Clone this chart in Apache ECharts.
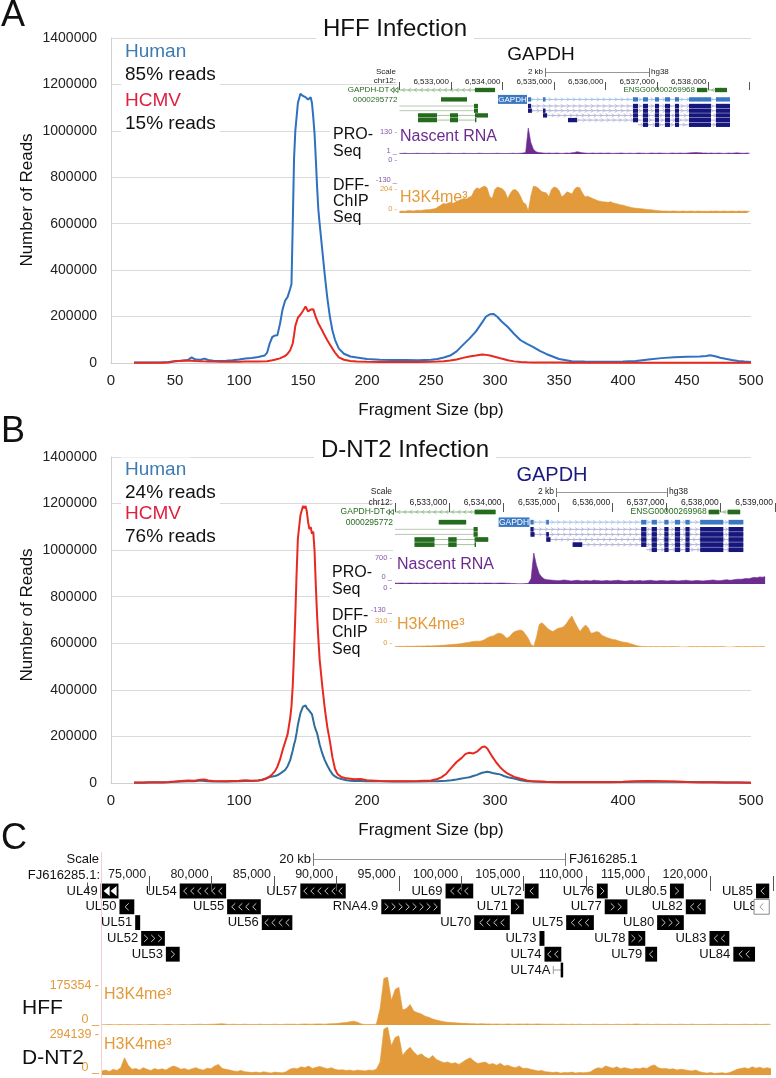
<!DOCTYPE html>
<html>
<head>
<meta charset="utf-8">
<script src="https://cdn.jsdelivr.net/npm/echarts@6/dist/echarts.min.js"></script>
<style>
html, body { margin: 0; background: #fff; }
#chart { width: 776px; height: 1078px; }
</style>
</head>
<body>
<div id="chart"></div>
<script>
const FONT = "'Liberation Sans', Arial, Helvetica, sans-serif";

// ---------- A: HFF fragment size distribution
const fragA = [18,25,30,40,45,50,55,60,63,66,70,73,76,80,85,90,95,100,105,110,115,120,122,124,126,128,130,132,134,136,138,140,141,142,143,144,146,148,150,152,154,156,157,158,159,160,161,162,163,165,167,169,171,173,175,178,182,187,192,200,210,220,230,240,250,255,260,265,270,275,280,285,290,293,296,299,302,305,310,315,320,325,330,335,340,350,360,370,380,390,400,410,420,430,440,450,460,465,468,472,476,480,485,490,495,500];
const humanA = [2000,2000,2500,3000,4500,8000,10000,13000,24000,15000,14000,19000,13000,10000,9000,10000,12000,15000,19000,22000,26000,32000,45000,85000,112000,118000,120000,168000,230000,268000,285000,320000,340000,600000,880000,1000000,1120000,1160000,1150000,1145000,1135000,1145000,1120000,1060000,990000,880000,760000,660000,600000,490000,380000,280000,200000,140000,100000,62000,40000,28000,24000,17000,14000,13000,13000,12000,14000,17000,24000,32000,50000,78000,105000,135000,175000,200000,210000,211000,198000,180000,155000,125000,98000,82000,68000,52000,39000,17000,8000,6000,5000,5000,6000,9000,15000,21000,25000,27000,28000,30000,33000,29000,23000,18000,13000,9000,6000,4000];
const hcmvA = [1000,1000,1200,1500,2000,8000,10000,11000,10000,9000,8000,7000,6000,6000,5000,5000,5000,5000,6000,6000,6000,7000,8000,10000,12000,14000,17000,20000,25000,30000,40000,55000,70000,85000,120000,160000,195000,208000,225000,243000,222000,230000,225000,232000,215000,197000,185000,170000,160000,140000,118000,98000,80000,62000,45000,24000,14000,9000,6000,5000,4000,4000,4000,4000,5000,6000,8000,11000,15000,22000,28000,32000,37000,35000,32000,28000,24000,19000,12000,7000,4000,3000,2500,2000,2000,2000,1500,1500,1500,1500,1500,1500,1500,1500,1500,1500,1500,1500,1500,1500,1500,1500,1500,1500,1500,1000];

// ---------- B: D-NT2 fragment size distribution
const fragB = [18,25,30,40,45,50,55,60,65,70,73,76,80,90,100,105,110,115,118,121,124,126,128,130,132,134,136,138,140,141,142,143,144,145,146,148,150,151,152,153,154,155,156,157,158,159,160,161,162,163,165,167,169,171,173,175,177,180,184,187,190,195,200,210,220,230,240,250,255,258,262,266,270,274,277,280,283,286,288,290,292,294,296,298,301,304,307,310,315,320,325,330,340,350,370,390,400,410,420,430,440,450,460,470,480,490,500];
const humanB = [1500,1500,2000,2500,3000,5000,6000,7000,8000,11000,9000,7000,6000,6000,8000,9000,9000,11000,14000,20000,26000,28000,30000,33000,40000,48000,56000,72000,98000,120000,140000,165000,185000,215000,250000,300000,328000,336000,333000,322000,315000,310000,305000,295000,270000,245000,228000,214000,190000,165000,128000,98000,75000,55000,38000,28000,22000,17000,12000,10000,9000,9000,8000,7000,6000,6000,6000,7000,8000,9000,10000,12000,15000,19000,22000,25000,30000,35000,40000,44000,46000,48000,46000,43000,40000,37000,30000,25000,19000,12000,8000,6000,4000,3000,3000,3000,4000,5000,6000,5000,5000,4000,3000,3000,2000,2000,1000];
const hcmvB = [2000,2500,3000,3500,4000,6000,9000,11000,10000,14000,15000,11000,9000,8000,10000,12000,10000,11000,13000,18000,28000,38000,50000,70000,100000,140000,175000,210000,280000,330000,420000,560000,720000,900000,1050000,1150000,1190000,1180000,1190000,1165000,1120000,1090000,1100000,1070000,1080000,1000000,850000,720000,620000,530000,420000,320000,240000,180000,110000,60000,38000,26000,20000,18000,16000,17000,12000,9000,8000,8000,9000,11000,17000,24000,40000,66000,90000,108000,125000,130000,127000,135000,145000,155000,157000,148000,130000,112000,88000,68000,52000,40000,26000,18000,11000,7000,5000,4000,4000,4000,5000,8000,9000,8000,6000,4000,3000,3000,2500,2000,1500];

// ---------- GAPDH browser insets (chr12, 50 bp bins from insetStart)
const insetStart = 6532000;
const insetBin = 50;
const proSeqA = [3,3,4,3,2,3,3,4,3,3,3,2,3,4,3,3,2,3,3,4,3,3,2,3,3,4,3,3,3,2,3,4,3,3,2,3,3,3,4,3,3,2,3,3,4,3,3,4,5,8,135,60,25,12,8,6,5,4,5,4,4,5,4,3,4,5,4,6,8,12,9,6,5,4,4,5,4,4,5,4,4,5,4,3,4,4,5,4,3,4,4,3,4,5,4,4,3,4,5,4,4,5,4,4,3,4,5,4,4,5,4,4,5,6,7,8,7,6,5,5,4,5,4,4,5,4,3,4,5,4,5,6,5,4,4,5,4];
const h3k4A = [15,18,15,20,22,18,20,25,22,25,28,30,32,35,40,55,70,85,80,90,95,88,100,110,120,130,125,140,150,200,225,215,230,240,225,150,130,210,232,225,215,190,130,175,205,209,190,150,95,80,20,150,240,235,220,195,185,180,145,210,232,225,200,145,160,189,180,170,215,232,225,180,145,150,140,130,120,110,105,100,98,95,100,90,85,78,72,70,60,55,50,45,42,40,38,35,32,30,28,25,22,20,18,18,17,16,18,17,16,15,17,16,15,18,16,15,17,16,15,16,15,17,16,18,15,16,17,15,16,17,15,16,18,15,17,16,15];
const proSeqB = [20,18,22,20,18,20,22,19,20,18,20,22,20,18,20,21,19,20,22,20,18,20,22,20,19,20,18,20,22,20,19,20,18,22,20,20,18,19,20,22,20,18,15,12,10,6,5,6,10,15,120,700,420,230,150,110,95,90,85,80,75,80,90,85,75,70,80,85,75,70,80,75,70,85,80,75,70,75,80,70,75,80,85,75,70,65,75,80,70,75,80,70,75,80,85,75,70,75,80,75,70,75,80,75,70,75,80,85,75,70,75,80,75,70,75,80,85,90,80,75,80,90,95,85,90,100,110,105,115,125,120,135,150,140,160,155,165];
const h3k4B = [5,6,8,7,9,8,10,9,11,10,12,11,14,13,15,16,18,20,22,25,28,30,32,35,40,45,50,55,62,67,70,68,75,90,110,125,130,150,165,160,140,105,120,160,184,195,204,190,150,100,30,8,120,270,290,260,223,200,184,205,223,230,243,280,330,369,302,240,184,230,263,230,165,170,184,175,140,125,110,100,90,86,75,65,58,55,45,35,25,16,10,6,5,4,5,4,5,4,4,5,4,4,5,4,4,0,0,0,4,5,4,5,4,4,5,4,4,5,4,4,5,4,0,0,0,4,5,4,4,5,4,4,5,4,4,5,4];

const laneY = [0, 2, 3.4, 4.4, 5.4, 6.4, 7.4];
const gapdhExons = [[6536534,6536631],[6536728,6536825],[6536961,6537039],[6537155,6537252],[6537350,6537427],[6537621,6538048],[6538145,6538417]];
const GREEN = '#256b1d', NAVY = '#16167c', GBLUE = '#3b78c2';
const insetTx = [
  { name: 'GAPDH-DT', lane: 0, strand: '-', from: 6532000, exons: [[6533466,6533854]], color: GREEN, line: '#8db584', label: 'margin', edge: true },
  { name: '0000295772', lane: 1, strand: '', exons: [[6532806,6533311]], color: GREEN, label: 'margin' },
  { name: '', lane: 2, strand: '', from: 6532000, exons: [[6533447,6533524]], color: GREEN, line: '#b8c8b2' },
  { name: '', lane: 3, strand: '', from: 6532000, exons: [[6533447,6533524]], color: GREEN, line: '#b8c8b2' },
  { name: '', lane: 4, strand: '', exons: [[6532359,6532728],[6532981,6533136],[6533466,6533718]], color: GREEN, line: '#a6c29d' },
  { name: '', lane: 5, strand: '', exons: [[6532359,6532728],[6532981,6533136],[6533466,6533492]], color: GREEN, line: '#a6c29d' },
  { name: 'ENSG00000269968', lane: 0, strand: '-', exons: [[6537777,6537971],[6538126,6538359]], color: GREEN, line: '#8db584', label: 'inline' },
  { name: 'GAPDH', lane: 1, strand: '+', exons: [[6534495,6534553],[6534786,6534835]].concat(gapdhExons), color: GBLUE, line: '#9fc1e6', label: 'box' },
  { name: '', lane: 2, strand: '+', exons: [[6534495,6534553]].concat(gapdhExons), color: NAVY, line: '#b2b4d6' },
  { name: '', lane: 3, strand: '+', exons: [[6534495,6534570],[6534786,6534835]].concat(gapdhExons), color: NAVY, line: '#b2b4d6' },
  { name: '', lane: 4, strand: '+', exons: [[6534786,6534864]].concat(gapdhExons), color: NAVY, line: '#b2b4d6' },
  { name: '', lane: 5, strand: '+', exons: [[6535272,6535447]].concat(gapdhExons), color: NAVY, line: '#b2b4d6' },
  { name: '', lane: 6, strand: '+', from: 6536631, exons: gapdhExons.slice(1), color: NAVY, line: '#b2b4d6' }
];

// ---------- C: HCMV genome (FJ616285.1), 300 bp bins, values in thousands
const cStart = 71200;
const cBin = 300;
const hffSignal = [1,1,2,1,1,2,1,2,1,1,2,1,1,2,2,1,1,2,2,1,1,2,2,1,2,2,3,2,2,3,3,4,5,3,2,3,2,2,3,2,2,2,3,2,2,2,3,2,2,3,3,3,2,3,4,3,3,4,4,3,4,5,5,6,8,9,12,14,10,4,2,2,2,3,60,170,175,90,130,138,55,60,75,50,45,40,32,28,22,18,15,12,10,9,8,7,6,6,5,5,4,5,4,4,3,4,3,3,4,3,3,4,3,4,3,3,4,3,3,3,3,2,3,3,2,3,2,3,2,2,2,3,2,2,3,2,2,3,2,2,3,2,4,3,2,3,2,2,3,2,2,3,2,2,3,2,2,3,2,2,2,2,3,2,2,2,3,2,2,2,2,3,2,2,3,2,2,3,2];
const dnt2Signal = [25,30,22,35,28,45,105,60,35,40,30,45,35,28,40,32,38,30,45,55,48,35,40,30,38,45,35,30,42,38,55,65,40,35,30,25,22,28,20,18,15,18,14,20,16,12,18,15,14,20,35,42,38,50,45,55,40,48,52,45,38,45,35,30,32,28,30,25,30,28,25,30,28,35,80,280,294,180,230,240,120,150,170,140,120,130,110,100,120,95,85,75,80,70,75,65,80,95,105,85,70,75,80,65,70,60,72,55,60,50,45,55,40,42,35,30,25,28,20,18,15,18,12,15,14,18,12,16,14,15,20,35,45,40,55,48,42,50,38,45,40,35,42,38,45,40,55,62,45,38,40,35,38,30,35,32,28,25,30,20,15,12,15,10,12,14,10,15,25,35,40,45,38,50,42,48,40,45,38];
const hffMax = 175.354, dnt2Max = 294.139;
const trackLabels = ['175354 -', '0 _', '294139 -', '0 _'];

// name, start, end, lane, kind
const cGenes = [
  ['UL49', 71100, 72530, 0, 'L'], ['UL50', 72610, 73800, 1, '-'], ['UL51', 73870, 74270, 2, ''],
  ['UL52', 74350, 76250, 3, '+'], ['UL53', 76330, 77440, 4, '+'], ['UL54', 77440, 81160, 0, '-'],
  ['UL55', 81240, 83940, 1, '-'], ['UL56', 84020, 86470, 2, '-'], ['UL57', 87110, 90750, 0, '-'],
  ['RNA4.9', 93600, 98360, 1, '+'], ['UL69', 98750, 100970, 0, '-'], ['UL70', 101050, 103900, 2, '-'],
  ['UL71', 103990, 105020, 1, '+'], ['UL72', 105100, 106210, 0, '-'], ['UL73', 106280, 106680, 3, ''],
  ['UL74', 106680, 108030, 4, '-'], ['UL74A', 107390, 108180, 5, 'line'], ['UL75', 108420, 110640, 2, '-'],
  ['UL76', 110880, 111750, 0, '+'], ['UL77', 111510, 113330, 1, '+'], ['UL78', 113410, 114760, 3, '+'],
  ['UL79', 114760, 115710, 4, '-'], ['UL80', 115710, 117850, 2, '+'], ['UL80.5', 116740, 117850, 0, '+'],
  ['UL82', 118010, 119600, 1, '-'], ['UL83', 119910, 121500, 3, '-'], ['UL84', 121820, 123560, 4, '-'],
  ['UL85', 123640, 124700, 0, '-'], ['UL86', 123480, 124700, 1, 'open']
];

const ORANGE = '#e29a3b', PURPLE = '#6c2b8f';

function pairs(xs, ys) { return xs.map(function (x, i) { return [x, ys[i]]; }); }
function bins(start, step, ys) { return ys.map(function (y, i) { return [start + step * i, y]; }); }

function txt(x, y, text, o) {
  o = o || {};
  const al = o.align || 'left';
  return {
    type: 'text', z: o.z || 6, x: x, y: y, rotation: o.rot || 0,
    style: {
      text: text, x: 0, y: 0, fill: o.color || '#111',
      font: (o.size || 12) + 'px ' + FONT,
      align: al, textAlign: al, verticalAlign: 'middle', textVerticalAlign: 'middle',
      backgroundColor: o.bg || null, padding: o.pad || 0
    }
  };
}
function box(x, y, w, h) { return { type: 'rect', z: 1, shape: { x: x, y: y, width: w, height: h }, style: { fill: '#fff' } }; }
function seg(x1, y1, x2, y2, c) { return { type: 'line', z: 6, shape: { x1: x1, y1: y1, x2: x2, y2: y2 }, style: { stroke: c || '#888', lineWidth: 1 } }; }

function insetGenes(fs) {
  return function (params, api) {
    const t = insetTx[params.dataIndex];
    const y = laneY[t.lane];
    const unit = api.size([0, 1])[1];
    const cy = api.coord([t.exons[0][0], y])[1];
    const h = unit * 0.92;
    const from = t.from !== undefined ? t.from : t.exons[0][0];
    const to = t.exons[t.exons.length - 1][1];
    const xa = api.coord([from, y])[0], xb = api.coord([to, y])[0];
    const lc = t.line || t.color;
    const kids = [];
    kids.push({ type: 'line', shape: { x1: xa, y1: cy, x2: xb, y2: cy }, style: { stroke: lc, lineWidth: 1 } });
    if (t.strand) {
      const d = t.strand === '+' ? 1.3 : -1.3;
      for (let x = xa + 4; x < xb - 3; x += 6) {
        kids.push({ type: 'polyline', shape: { points: [[x - d, cy - 1.8], [x + d, cy], [x - d, cy + 1.8]] }, style: { stroke: lc, fill: null, lineWidth: 0.8 } });
      }
    }
    t.exons.forEach(function (ex) {
      const a = api.coord([ex[0], y])[0], b = api.coord([ex[1], y])[0];
      kids.push({ type: 'rect', shape: { x: a, y: cy - h / 2, width: Math.max(b - a, 1), height: h }, style: { fill: t.color } });
    });
    const font = fs + 'px ' + FONT;
    if (t.label === 'margin') {
      const left = api.coord([insetStart, y])[0];
      let lx = left - 2;
      if (t.edge) {
        [left - 9, left - 5].forEach(function (x) {
          kids.push({ type: 'polygon', shape: { points: [[x + 3.5, cy - 2.5], [x, cy], [x + 3.5, cy + 2.5]] }, style: { stroke: t.color, fill: '#fff', lineWidth: 0.8 } });
        });
        lx = left - 10;
      }
      kids.push({ type: 'text', style: { text: t.name, x: lx, y: cy, fill: t.color, font: font, align: 'right', textAlign: 'right', verticalAlign: 'middle', textVerticalAlign: 'middle' } });
    } else if (t.label === 'inline') {
      kids.push({ type: 'text', style: { text: t.name, x: xa - 2, y: cy, fill: t.color, font: font, align: 'right', textAlign: 'right', verticalAlign: 'middle', textVerticalAlign: 'middle' } });
    } else if (t.label === 'box') {
      const w = 29 * fs / 8;
      kids.push({ type: 'rect', shape: { x: xa - w - 1, y: cy - fs / 2 - 0.5, width: w, height: fs + 1 }, style: { fill: t.color } });
      kids.push({ type: 'text', style: { text: t.name, x: xa - w / 2 - 1, y: cy, fill: '#fff', font: font, align: 'center', textAlign: 'center', verticalAlign: 'middle', textVerticalAlign: 'middle' } });
    }
    return { type: 'group', children: kids };
  };
}

function cGeneItem(params, api) {
  const g = cGenes[params.dataIndex];
  const s = g[1], e = g[2], lane = g[3], kind = g[4];
  const p0 = api.coord([s, lane]);
  const x0 = p0[0], cy = p0[1];
  const x1 = api.coord([e, lane])[0];
  const h = api.size([0, 1])[1] * 0.94;
  const w = x1 - x0;
  const kids = [];
  kids.push({ type: 'text', style: { text: g[0], x: kind === 'open' ? x0 + 10 : x0 - 3, y: cy, fill: '#111', font: '13px ' + FONT, align: 'right', textAlign: 'right', verticalAlign: 'middle', textVerticalAlign: 'middle' } });
  if (kind === 'line') {
    kids.push({ type: 'line', shape: { x1: x0, y1: cy, x2: x1, y2: cy }, style: { stroke: '#999', lineWidth: 1 } });
    kids.push({ type: 'line', shape: { x1: x0, y1: cy - 4, x2: x0, y2: cy + 4 }, style: { stroke: '#999', lineWidth: 1 } });
    kids.push({ type: 'rect', shape: { x: x1 - 2.5, y: cy - h / 2, width: 2.5, height: h }, style: { fill: '#000' } });
    return { type: 'group', children: kids };
  }
  kids.push({ type: 'rect', shape: { x: x0, y: cy - h / 2, width: w, height: h },
    style: kind === 'open' ? { fill: '#fff', stroke: '#888', lineWidth: 1 } : { fill: '#000' } });
  if (kind === 'L') {
    [x0 + 3, x0 + 10].forEach(function (x) {
      kids.push({ type: 'polygon', shape: { points: [[x + 6, cy - 5], [x, cy], [x + 6, cy + 5]] }, style: { fill: '#fff' } });
    });
  } else if (kind && w > 6) {
    const n = Math.max(1, Math.floor((w - 2) / 7));
    const st = x0 + (w - (n - 1) * 7) / 2;
    const d = (kind === '+') ? 1.8 : -1.8;
    const c = kind === 'open' ? '#999' : '#c4c4c4';
    for (let k = 0; k < n; k++) {
      const x = st + k * 7;
      kids.push({ type: 'polyline', shape: { points: [[x - d, cy - 3.5], [x + d, cy], [x - d, cy + 3.5]] }, style: { stroke: c, fill: null, lineWidth: 1 } });
    }
  }
  return { type: 'group', children: kids };
}

function mainX(grid, interval) {
  return { gridIndex: grid, type: 'value', min: 0, max: 500, interval: interval,
    axisLine: { lineStyle: { color: '#d0d0d0' } }, axisTick: { show: false }, splitLine: { show: false },
    axisLabel: { fontSize: 15, color: '#222', margin: 10, fontFamily: FONT, showMinLabel: true, showMaxLabel: true } };
}
function mainY(grid) {
  return { gridIndex: grid, type: 'value', min: 0, max: 1400000, interval: 200000,
    axisLine: { show: true, lineStyle: { color: '#d0d0d0' } }, axisTick: { show: false },
    splitLine: { lineStyle: { color: '#dadada' } },
    axisLabel: { fontSize: 14, color: '#222', margin: 14, fontFamily: FONT, formatter: function (v) { return String(v); } } };
}
function hideX(grid, min, max) { return { gridIndex: grid, type: 'value', min: min, max: max, show: false }; }
function hideY(grid, min, max, inv) { return { gridIndex: grid, type: 'value', min: min, max: max, show: false, inverse: !!inv }; }
function rulerX(grid, max, fs, tick) {
  return { gridIndex: grid, type: 'value', position: 'top', min: insetStart, max: max, interval: 1000, z: 5,
    axisLine: { show: false }, splitLine: { show: false },
    axisTick: { show: true, length: tick, lineStyle: { color: '#555' } },
    axisLabel: { fontSize: fs, color: '#222', margin: 0, align: 'right', padding: [0, 2, 0, 0], fontFamily: FONT,
      formatter: function (v) { return (v > insetStart && v % 1000 === 0) ? v.toLocaleString('en-US') : ''; } } };
}
function area(xi, data, color, z) {
  return { type: 'line', xAxisIndex: xi, yAxisIndex: xi, data: data, symbol: 'none', z: z || 5,
    lineStyle: { width: 0.6, color: color }, areaStyle: { color: color, opacity: 1 }, itemStyle: { color: color } };
}
function curve(xi, xs, ys, color) {
  return { type: 'line', xAxisIndex: xi, yAxisIndex: xi, data: pairs(xs, ys), symbol: 'none',
    lineStyle: { width: 2, color: color }, itemStyle: { color: color } };
}

const HUMAN_TXT = '#3c7bb4', HCMV_TXT = '#e0203f';
const wA = 6800 * 0.0515, wB = 7000 * 0.056;

const graphics = [
  // panel A
  txt(1, 16, 'A', { size: 36 }),
  txt(395, 29, 'HFF Infection', { size: 24, align: 'center', bg: '#fff', pad: [2, 7] }),
  txt(121, 52, 'Human', { size: 19, color: HUMAN_TXT, bg: '#fff', pad: [3, 4] }),
  txt(121, 75, '85% reads', { size: 19, bg: '#fff', pad: [3, 4] }),
  txt(121, 101, 'HCMV', { size: 19, color: HCMV_TXT, bg: '#fff', pad: [3, 4] }),
  txt(121, 124, '15% reads', { size: 19, bg: '#fff', pad: [3, 4] }),
  txt(27, 200, 'Number of Reads', { size: 17, align: 'center', rot: Math.PI / 2 }),
  txt(431, 410, 'Fragment Size (bp)', { size: 17, align: 'center' }),
  box(397, 44, 354, 172), box(330, 100, 67, 116),
  txt(541, 55, 'GAPDH', { size: 19, align: 'center' }),
  txt(396, 72, 'Scale', { size: 8, align: 'right', color: '#222' }),
  txt(396, 81, 'chr12:', { size: 8, align: 'right', color: '#222' }),
  txt(543, 72, '2 kb', { size: 8, align: 'right', color: '#222' }),
  seg(545.5, 72.5, 649.5, 72.5, '#999'), seg(545.5, 68, 545.5, 77, '#777'), seg(649.5, 68, 649.5, 77, '#777'),
  txt(651, 72, 'hg38', { size: 8, color: '#222' }),
  txt(333, 135, 'PRO-', { size: 16 }), txt(333, 152, 'Seq', { size: 16 }),
  txt(333, 186, 'DFF-', { size: 16 }), txt(333, 202, 'ChIP', { size: 16 }), txt(333, 218, 'Seq', { size: 16 }),
  txt(397, 132, '130 -', { size: 7.5, align: 'right', color: '#8a5aa8' }),
  txt(397, 151, '1 _', { size: 7.5, align: 'right', color: '#8a5aa8' }),
  txt(397, 160, '0 -', { size: 7.5, align: 'right', color: '#8a5aa8' }),
  txt(397, 180, '-130 _', { size: 7.5, align: 'right', color: '#8a5aa8' }),
  txt(397, 189, '204 -', { size: 7.5, align: 'right', color: ORANGE }),
  txt(397, 209, '0 -', { size: 7.5, align: 'right', color: ORANGE }),
  txt(400, 137, 'Nascent RNA', { size: 16, color: PURPLE }),
  txt(400, 198, 'H3K4me³', { size: 16, color: ORANGE }),
  // panel B
  txt(1, 432, 'B', { size: 36 }),
  txt(405, 450, 'D-NT2 Infection', { size: 24, align: 'center', bg: '#fff', pad: [2, 7] }),
  txt(121, 470, 'Human', { size: 19, color: HUMAN_TXT, bg: '#fff', pad: [3, 4] }),
  txt(121, 493, '24% reads', { size: 19, bg: '#fff', pad: [3, 4] }),
  txt(121, 514, 'HCMV', { size: 19, color: HCMV_TXT, bg: '#fff', pad: [3, 4] }),
  txt(121, 537, '76% reads', { size: 19, bg: '#fff', pad: [3, 4] }),
  txt(27, 615, 'Number of Reads', { size: 17, align: 'center', rot: Math.PI / 2 }),
  txt(431, 830, 'Fragment Size (bp)', { size: 17, align: 'center' }),
  box(393, 462, 383, 188), box(330, 565, 63, 85),
  txt(552, 475, 'GAPDH', { size: 20, align: 'center', color: '#1a1a80' }),
  txt(392, 492, 'Scale', { size: 8.5, align: 'right', color: '#222' }),
  txt(392, 503, 'chr12:', { size: 8.5, align: 'right', color: '#222' }),
  txt(554, 492, '2 kb', { size: 8.5, align: 'right', color: '#222' }),
  seg(556.5, 492.5, 667.5, 492.5, '#999'), seg(556.5, 488, 556.5, 497, '#777'), seg(667.5, 488, 667.5, 497, '#777'),
  txt(669, 492, 'hg38', { size: 8.5, color: '#222' }),
  txt(332, 573, 'PRO-', { size: 16 }), txt(332, 590, 'Seq', { size: 16 }),
  txt(332, 616, 'DFF-', { size: 16 }), txt(332, 633, 'ChIP', { size: 16 }), txt(332, 650, 'Seq', { size: 16 }),
  txt(392, 558, '700 -', { size: 7.5, align: 'right', color: '#8a5aa8' }),
  txt(392, 577, '0 _', { size: 7.5, align: 'right', color: '#8a5aa8' }),
  txt(392, 588, '0 -', { size: 7.5, align: 'right', color: '#8a5aa8' }),
  txt(392, 610, '-130 _', { size: 7.5, align: 'right', color: '#8a5aa8' }),
  txt(392, 621, '310 -', { size: 7.5, align: 'right', color: ORANGE }),
  txt(392, 643, '0 -', { size: 7.5, align: 'right', color: ORANGE }),
  txt(397, 565, 'Nascent RNA', { size: 16, color: PURPLE }),
  txt(397, 625, 'H3K4me³', { size: 16, color: ORANGE }),
  // panel C
  txt(1, 839, 'C', { size: 36 }),
  seg(101.5, 852, 101.5, 1078, '#f3cfcf'),
  txt(99, 859, 'Scale', { size: 13, align: 'right' }),
  txt(311, 859, '20 kb', { size: 13, align: 'right' }),
  seg(313.5, 859.5, 565.5, 859.5, '#999'), seg(313.5, 853, 313.5, 866, '#777'), seg(565.5, 853, 565.5, 866, '#777'),
  txt(569, 859, 'FJ616285.1', { size: 13 }),
  txt(100, 875, 'FJ616285.1:', { size: 13, align: 'right', bg: '#fff', pad: [1, 0, 1, 6] }),
  txt(99, 986, trackLabels[0], { size: 12.5, align: 'right', color: ORANGE }),
  txt(99, 1020, trackLabels[1], { size: 12.5, align: 'right', color: ORANGE }),
  txt(99, 1035, trackLabels[2], { size: 12.5, align: 'right', color: ORANGE }),
  txt(99, 1068, trackLabels[3], { size: 12.5, align: 'right', color: ORANGE }),
  txt(22, 1008, 'HFF', { size: 21 }),
  txt(22, 1058, 'D-NT2', { size: 21 }),
  txt(104, 995, 'H3K4me³', { size: 16, color: ORANGE }),
  txt(104, 1045, 'H3K4me³', { size: 16, color: ORANGE })
];

const chart = echarts.init(document.getElementById('chart'));
chart.setOption({
  animation: false,
  textStyle: { fontFamily: FONT },
  grid: [
    { left: 111, top: 38, width: 640, height: 325 },
    { left: 111, top: 457, width: 640, height: 326 },
    { left: 399.5, top: 85.3, width: wA, height: 44.2 },
    { left: 399.5, top: 127, width: wA, height: 27 },
    { left: 399.5, top: 185, width: wA, height: 28 },
    { left: 395, top: 506.9, width: wB, height: 47.9 },
    { left: 395, top: 553, width: wB, height: 31 },
    { left: 395, top: 616, width: wB, height: 31 },
    { left: 86.9, top: 883.1, width: 694.2, height: 94.8 },
    { left: 86.9, top: 977, width: 694.2, height: 48 },
    { left: 86.9, top: 1027, width: 694.2, height: 48 }
  ],
  xAxis: [
    mainX(0, 50), mainX(1, 100),
    rulerX(2, 6538800, 8, 8), hideX(3, insetStart, 6538800), hideX(4, insetStart, 6538800),
    rulerX(5, 6539000, 8.5, 9), hideX(6, insetStart, 6539000), hideX(7, insetStart, 6539000),
    { gridIndex: 8, type: 'value', position: 'top', offset: 1, min: 70000, max: 125000, interval: 5000, z: 5,
      axisLine: { show: false }, splitLine: { show: false },
      axisTick: { show: true, length: 15, lineStyle: { color: '#555' } },
      axisLabel: { fontSize: 12.5, color: '#222', margin: 1, align: 'right', padding: [0, 3, 0, 0], fontFamily: FONT,
        formatter: function (v) { return (v > 70000 && v < 125000) ? v.toLocaleString('en-US') : ''; } } },
    hideX(9, 70000, 125000), hideX(10, 70000, 125000)
  ],
  yAxis: [
    mainY(0), mainY(1),
    hideY(2, -1, 8.4, true), hideY(3, 0, 140), hideY(4, 0, 250),
    hideY(5, -1, 8.4, true), hideY(6, 0, 700), hideY(7, 0, 370),
    hideY(8, -0.5, 5.5, true), hideY(9, 0, hffMax), hideY(10, 0, dnt2Max)
  ],
  series: [
    curve(0, fragA, humanA, '#2f70c1'),
    curve(0, fragA, hcmvA, '#e8291f'),
    curve(1, fragB, humanB, '#2f6d9c'),
    curve(1, fragB, hcmvB, '#e8291f'),
    { type: 'custom', xAxisIndex: 2, yAxisIndex: 2, z: 5, clip: false, renderItem: insetGenes(8),
      data: insetTx.map(function (t) { return [t.exons[0][0], t.exons[t.exons.length - 1][1], laneY[t.lane]]; }), encode: { x: [0, 1], y: 2 } },
    area(3, bins(insetStart, insetBin, proSeqA), PURPLE),
    area(4, bins(insetStart, insetBin, h3k4A), ORANGE),
    { type: 'custom', xAxisIndex: 5, yAxisIndex: 5, z: 5, clip: false, renderItem: insetGenes(8.5),
      data: insetTx.map(function (t) { return [t.exons[0][0], t.exons[t.exons.length - 1][1], laneY[t.lane]]; }), encode: { x: [0, 1], y: 2 } },
    area(6, bins(insetStart, insetBin, proSeqB), PURPLE),
    area(7, bins(insetStart, insetBin, h3k4B), ORANGE),
    { type: 'custom', xAxisIndex: 8, yAxisIndex: 8, z: 5, clip: false, renderItem: cGeneItem,
      data: cGenes.map(function (g) { return [g[1], g[2], g[3]]; }), encode: { x: [0, 1], y: 2 } },
    area(9, bins(cStart, cBin, hffSignal), ORANGE),
    area(10, bins(cStart, cBin, dnt2Signal), ORANGE)
  ],
  graphic: { elements: graphics }
});
window.addEventListener('resize', function () { chart.resize(); });
</script>
</body>
</html>
